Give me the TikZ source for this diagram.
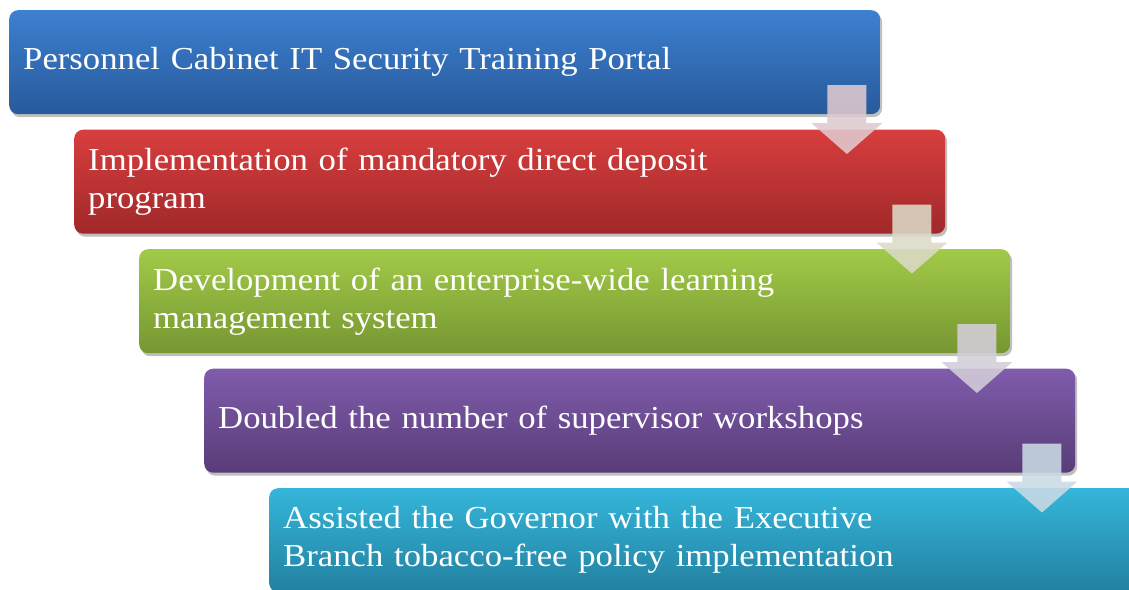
\documentclass[tikz,border=0pt]{standalone}
\usepackage{fontspec}
\setmainfont[FakeStretch=1.085]{Liberation Serif}
\usetikzlibrary{calc,shadows}

% box colours (top / bottom of the vertical gradient)
\definecolor{blueT}{RGB}{60,128,208}
\definecolor{blueB}{RGB}{40,90,155}
\definecolor{redT}{RGB}{216,62,62}
\definecolor{redB}{RGB}{160,40,42}
\definecolor{greenT}{RGB}{162,202,72}
\definecolor{greenB}{RGB}{118,150,50}
\definecolor{purpT}{RGB}{128,92,172}
\definecolor{purpB}{RGB}{88,60,120}
\definecolor{cyanT}{RGB}{52,182,218}
\definecolor{cyanB}{RGB}{34,128,160}
% arrow tints
\definecolor{arrA}{RGB}{224,202,207}
\definecolor{arrB}{RGB}{220,218,198}
\definecolor{arrC}{RGB}{212,206,218}
\definecolor{arrD}{RGB}{202,218,228}

\tikzset{
  stepbox/.style={
    draw=none, rounded corners=9pt, anchor=north west,
    minimum width=871pt, minimum height=104pt,
    text width=843pt, inner xsep=14pt, inner ysep=0pt, align=left,
    text=white, font=\fontsize{32}{38}\selectfont,
    drop shadow={shadow xshift=2pt, shadow yshift=-3pt, opacity=0.25, fill=black}
  },
  downarrow/.style={draw=none, fill opacity=0.88}
}

% one arrow below box #1 (a downward block arrow)
\newcommand\stepArrow[2]{%
  \fill[downarrow, fill=#2]
    ($(#1.north east)+(-53,75)$) -- ($(#1.north east)+(-14,75)$)
    -- ($(#1.north east)+(-14,113)$) -- ($(#1.north east)+(2,113)$)
    -- ($(#1.north east)+(-33.5,144)$) -- ($(#1.north east)+(-69,113)$)
    -- ($(#1.north east)+(-53,113)$) -- cycle;}

\begin{document}
\begin{tikzpicture}[x=1pt,y=-1pt]
  \useasboundingbox (0,0) rectangle (1129,589);
  \fill[white] (0,0) rectangle (1129,589);
  \begin{scope}
    \clip (0,0) rectangle (1129,589);
    \node[stepbox, top color=blueT, bottom color=blueB] (b1) at (9,10)
      {\raisebox{-3pt}{Personnel Cabinet IT Security Training Portal}};
    \node[stepbox, top color=redT, bottom color=redB] (b2) at (74,129.5)
      {Implementation of mandatory direct deposit\\program};
    \node[stepbox, top color=greenT, bottom color=greenB] (b3) at (139,249)
      {Development of an enterprise-wide learning\\management system};
    \node[stepbox, top color=purpT, bottom color=purpB] (b4) at (204,368.5)
      {\raisebox{-3pt}{Doubled the number of supervisor workshops}};
    \node[stepbox, top color=cyanT, bottom color=cyanB] (b5) at (269,488)
      {Assisted the Governor with the Executive\\Branch tobacco-free policy implementation};

    \stepArrow{b1}{arrA}
    \stepArrow{b2}{arrB}
    \stepArrow{b3}{arrC}
    \stepArrow{b4}{arrD}
  \end{scope}
\end{tikzpicture}
\end{document}
